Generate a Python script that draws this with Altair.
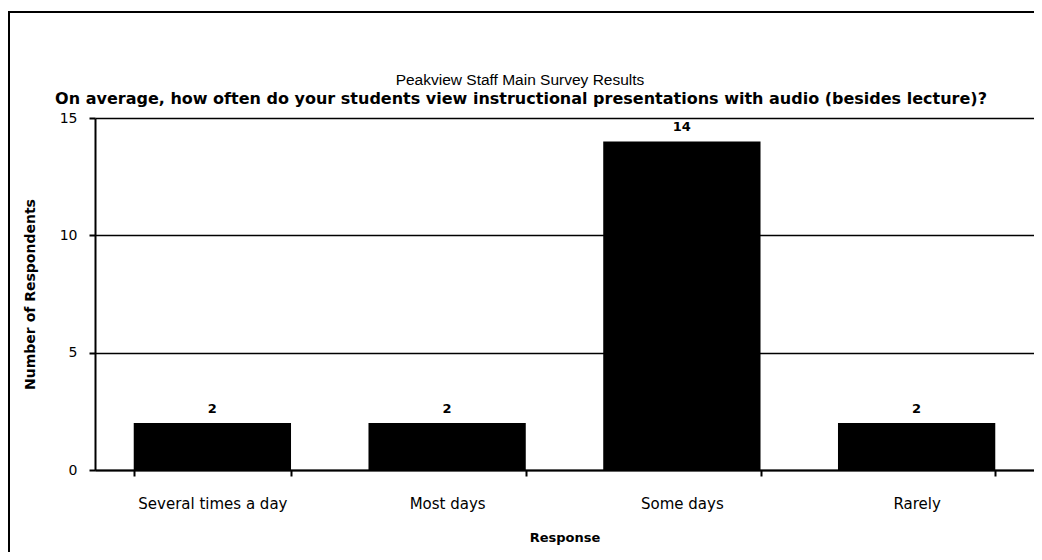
import altair as alt
import pandas as pd

categories = ["Several times a day", "Most days", "Some days", "Rarely"]
counts = [2, 2, 14, 2]
title_text = "Peakview Staff Main Survey Results"
subtitle_text = "On average, how often do your students view instructional presentations with audio (besides lecture)?"

df = pd.DataFrame({"Response": categories, "Count": counts})
tdf = pd.DataFrame({"t": [title_text], "s": [subtitle_text]})

W, H = 939, 352

base = alt.Chart(df).encode(
    x=alt.X("Response:N", sort=categories, title="Response",
            scale=alt.Scale(paddingInner=0.33, paddingOuter=0.165),
            axis=alt.Axis(labelAngle=0, tickBand="extent", labelPadding=20,
                          titlePadding=20, labelFontSize=15, titleFontSize=13,
                          titleFontWeight="bold", labelColor="black", titleColor="black",
                          domainColor="black", tickColor="black", domainWidth=2,
                          tickWidth=2, tickSize=6, labelFont="DejaVu Sans",
                          titleFont="DejaVu Sans")),
    y=alt.Y("Count:Q", title="Number of Respondents",
            scale=alt.Scale(domain=[0, 15]),
            axis=alt.Axis(values=[0, 5, 10, 15], grid=True, gridColor="black",
                          gridWidth=1.5, gridOpacity=1, labelFontSize=14,
                          labelFontWeight="normal", titleFontSize=14, titleFontWeight="bold",
                          labelColor="black", titleColor="black", domainColor="black",
                          domainWidth=2, tickColor="black", tickWidth=2, tickSize=6,
                          labelPadding=12, titlePadding=22, labelFont="DejaVu Sans",
                          titleFont="DejaVu Sans")),
)

bars = base.mark_bar(color="black")
labels = base.mark_text(dy=-14, fontSize=13, fontWeight="bold", color="black",
                        font="DejaVu Sans").encode(text="Count:Q")

border = alt.Chart(df).mark_rect(fill=None, stroke="black", strokeWidth=2).encode(
    x=alt.value(-86), x2=alt.value(980), y=alt.value(-106), y2=alt.value(480)
)

title = alt.Chart(tdf).mark_text(fontSize=15.5, font="Liberation Sans", color="black",
                                 align="center", baseline="middle").encode(
    text="t:N", x=alt.value(425), y=alt.value(-38)
)
subtitle = alt.Chart(tdf).mark_text(fontSize=16, fontWeight="bold", font="DejaVu Sans",
                                    color="black", align="center", baseline="middle").encode(
    text="s:N", x=alt.value(426), y=alt.value(-19)
)

chart = alt.layer(bars, labels, border, title, subtitle).properties(
    width=W, height=H,
    autosize=alt.AutoSizeParams(type="none"),
    padding={"left": 87, "top": 110, "right": 0, "bottom": 82},
).configure_view(stroke=None)

chart.save("out.html", embed_options={"renderer": "svg", "actions": False})
